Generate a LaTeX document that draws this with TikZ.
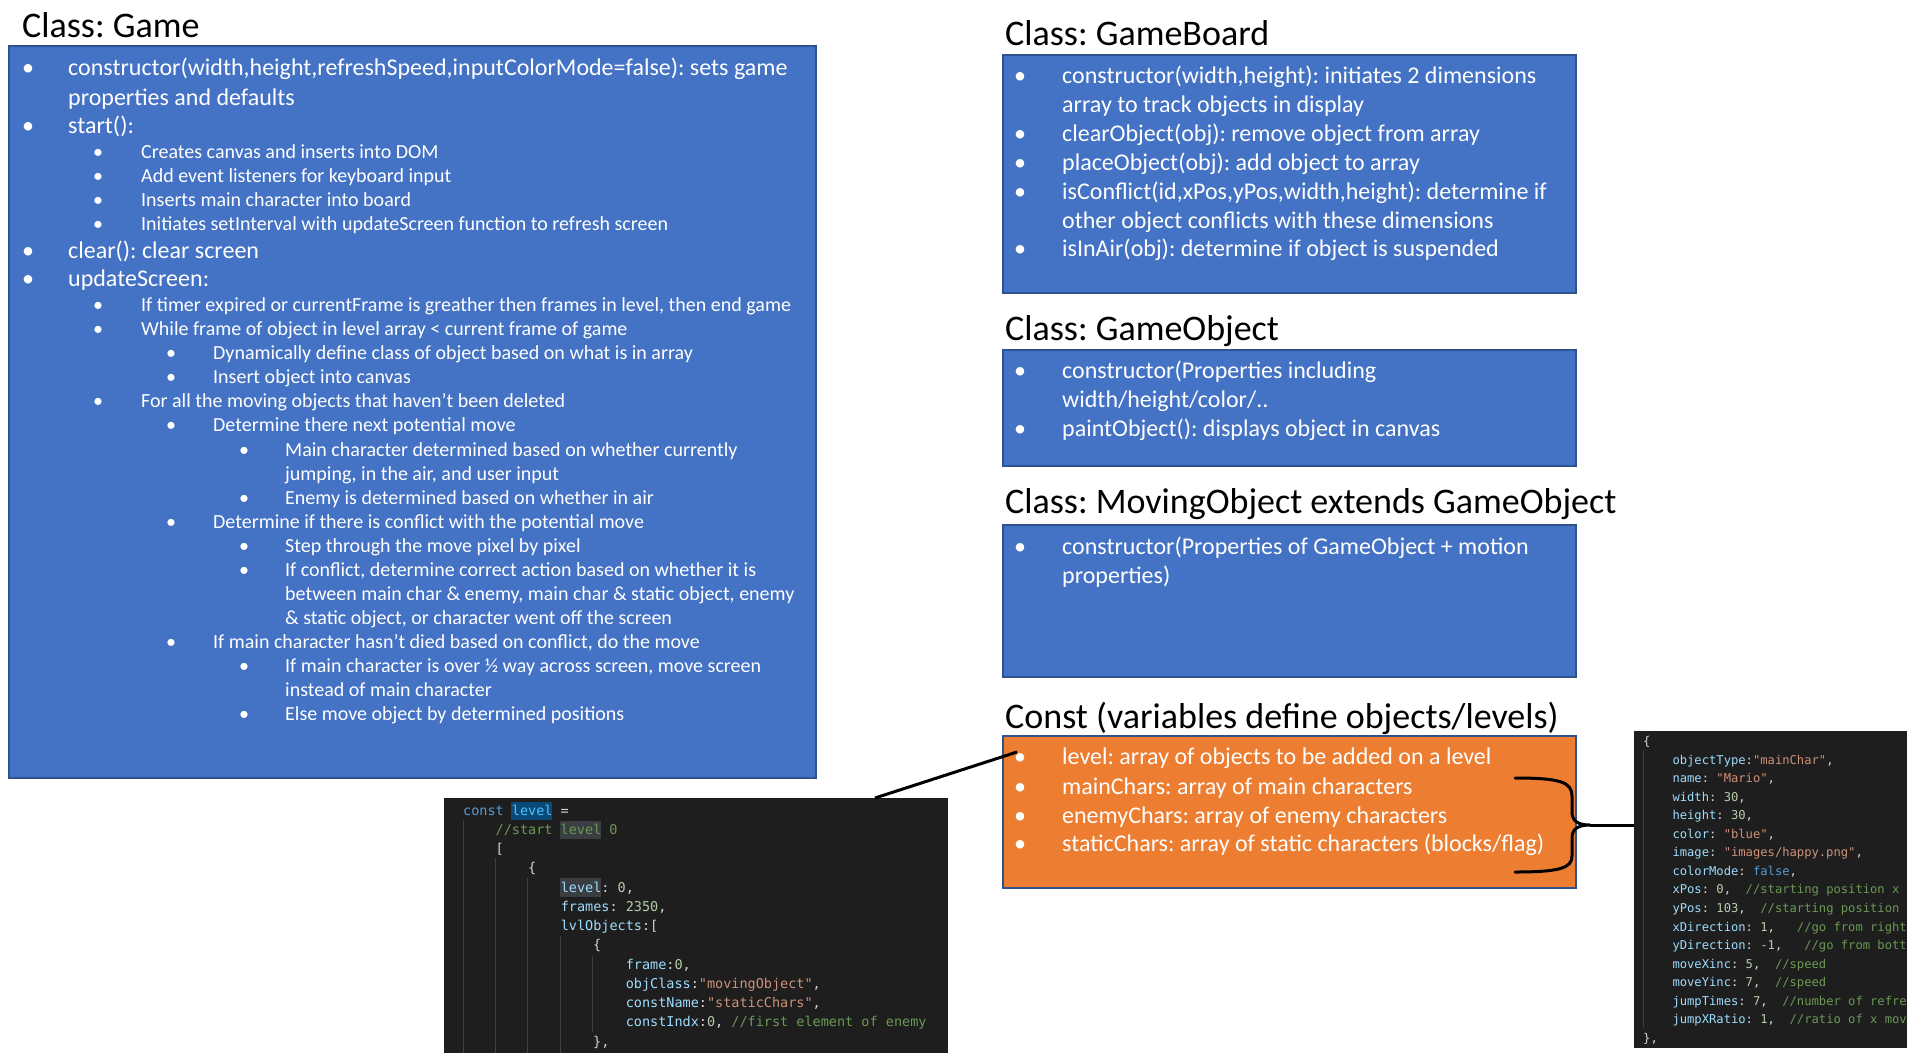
\documentclass[tikz,border=0pt]{standalone}
\usepackage{fontspec}
\setmainfont{Carlito}
\newfontfamily\codefont{DejaVu Sans Mono}
\usetikzlibrary{calc}
\definecolor{pblue}{HTML}{4472C4}
\definecolor{pborder}{HTML}{2F528F}
\definecolor{porange}{HTML}{ED7D31}
\definecolor{vsbg}{HTML}{1E1E1E}
\definecolor{vskw}{HTML}{569CD6}
\definecolor{vsvar}{HTML}{4FC1FF}
\definecolor{vsprop}{HTML}{9CDCFE}
\definecolor{vsstr}{HTML}{CE9178}
\definecolor{vsnum}{HTML}{B5CEA8}
\definecolor{vscom}{HTML}{6A9955}
\definecolor{vstxt}{HTML}{D4D4D4}
\definecolor{vsguide}{HTML}{404040}
\definecolor{vshl}{HTML}{0A4A78}
\definecolor{vshlg}{HTML}{3A3D41}
\newcommand\bu[1]{\llap{\makebox[#1pt][l]{\makebox[0pt]{\textbullet}}}}
\newcommand\kw[1]{\textcolor{vskw}{#1}}
\newcommand\vr[1]{\textcolor{vsvar}{#1}}
\newcommand\pr[1]{\textcolor{vsprop}{#1}}
\newcommand\st[1]{\textcolor{vsstr}{#1}}
\newcommand\nm[1]{\textcolor{vsnum}{#1}}
\newcommand\cm[1]{\textcolor{vscom}{#1}}
\tikzset{
  ttl/.style={anchor=base west, inner sep=0pt, text=black, font=\fontsize{36}{43}\selectfont\frenchspacing},
  tbig/.style={anchor=base west, inner sep=0pt, text=white, font=\fontsize{24}{29}\selectfont\frenchspacing},
  tsub/.style={anchor=base west, inner sep=0pt, text=white, font=\fontsize{20}{24}\selectfont\frenchspacing},
  bluebox/.style={draw=pborder, fill=pblue, line width=2pt, anchor=north west, inner sep=0pt},
  orangebox/.style={draw=pborder, fill=porange, line width=2pt, anchor=north west, inner sep=0pt},
  codebox/.style={fill=vsbg, draw=none, anchor=north west, inner sep=0pt},
  codeA/.style={anchor=base west, inner sep=0pt, text=vstxt, font=\fontsize{13.5}{16}\codefont\frenchspacing},
  codeB/.style={anchor=base west, inner sep=0pt, text=vstxt, font=\fontsize{12.16}{15}\codefont\frenchspacing},
  guide/.style={draw=vsguide, line width=1pt},
  conn/.style={draw=black, line width=3pt},
}
\begin{document}
\frenchspacing
\begin{tikzpicture}[x=1pt,y=-1pt]
\useasboundingbox (0,0) rectangle (1907,1053);
\fill[white] (0,0) rectangle (1907,1053);

% ---------------- Class: Game ----------------
\node[ttl] (tgame) at (22,37) {Class: Game};
\node[bluebox, minimum width=807pt, minimum height=732pt] (game) at (8,45) {};
\node[tbig] (g1) at (68,75) {\bu{40}constructor(width,height,refreshSpeed,inputColorMode=false): sets game};
\node[tbig] (g1c) at (68,105) {properties and defaults};
\node[tbig] (g2) at (68,133) {\bu{40}start():};
\node[tsub] (g21) at (141,158.3) {\bu{43}Creates canvas and inserts into DOM};
\node[tsub] (g22) at (141,182.3) {\bu{43}Add event listeners for keyboard input};
\node[tsub] (g23) at (141,206.3) {\bu{43}Inserts main character into board};
\node[tsub] (g24) at (141,230.3) {\bu{43}Initiates setInterval with updateScreen function to refresh screen};
\node[tbig] (g3) at (68,258) {\bu{40}clear(): clear screen};
\node[tbig] (g4) at (68,286.3) {\bu{40}updateScreen:};
\node[tsub] (g41) at (141,311.7) {\bu{43}If timer expired or currentFrame is greather then frames in level, then end game};
\node[tsub] (g42) at (141,335.75) {\bu{43}While frame of object in level array < current frame of game};
\node[tsub] (g421) at (213,359.8) {\bu{42}Dynamically define class of object based on what is in array};
\node[tsub] (g422) at (213,383.85) {\bu{42}Insert object into canvas};
\node[tsub] (g43) at (141,407.9) {\bu{43}For all the moving objects that haven’t been deleted};
\node[tsub] (g431) at (213,431.95) {\bu{42}Determine there next potential move};
\node[tsub] (g4311) at (285,456) {\bu{41}Main character determined based on whether currently};
\node[tsub] (g4311c) at (285,480.05) {jumping, in the air, and user input};
\node[tsub] (g4312) at (285,504.1) {\bu{41}Enemy is determined based on whether in air};
\node[tsub] (g432) at (213,528.15) {\bu{42}Determine if there is conflict with the potential move};
\node[tsub] (g4321) at (285,552.2) {\bu{41}Step through the move pixel by pixel};
\node[tsub] (g4322) at (285,576.25) {\bu{41}If conflict, determine correct action based on whether it is};
\node[tsub] (g4322c) at (285,600.3) {between main char \& enemy, main char \& static object, enemy};
\node[tsub] (g4322d) at (285,624.35) {\& static object, or character went off the screen};
\node[tsub] (g433) at (213,648.4) {\bu{42}If main character hasn’t died based on conflict, do the move};
\node[tsub] (g4331) at (285,672.45) {\bu{41}If main character is over ½ way across screen, move screen};
\node[tsub] (g4331c) at (285,696.5) {instead of main character};
\node[tsub] (g4332) at (285,720.55) {\bu{41}Else move object by determined positions};

% ---------------- Class: GameBoard ----------------
\node[ttl] (tboard) at (1005,45) {Class: GameBoard};
\node[bluebox, minimum width=573pt, minimum height=238pt] (board) at (1002,54) {};
\node[tbig] (b1) at (1062,83) {\bu{42}constructor(width,height): initiates 2 dimensions};
\node[tbig] (b1c) at (1062,112) {array to track objects in display};
\node[tbig] (b2) at (1062,141.3) {\bu{42}clearObject(obj): remove object from array};
\node[tbig] (b3) at (1062,170.3) {\bu{42}placeObject(obj): add object to array};
\node[tbig] (b4) at (1062,199.7) {\bu{42}isConflict(id,xPos,yPos,width,height): determine if};
\node[tbig] (b4c) at (1062,228) {other object conflicts with these dimensions};
\node[tbig] (b5) at (1062,256.3) {\bu{42}isInAir(obj): determine if object is suspended};

% ---------------- Class: GameObject ----------------
\node[ttl] (tobj) at (1005,340) {Class: GameObject};
\node[bluebox, minimum width=573pt, minimum height=116pt] (gobj) at (1002,349) {};
\node[tbig] (o1) at (1062,378.7) {\bu{42}constructor(Properties including};
\node[tbig] (o1c) at (1062,407.3) {width/height/color/..};
\node[tbig] (o2) at (1062,436.3) {\bu{42}paintObject(): displays object in canvas};

% ---------------- Class: MovingObject ----------------
\node[ttl] (tmov) at (1005,513) {Class: MovingObject extends GameObject};
\node[bluebox, minimum width=573pt, minimum height=152pt] (mov) at (1002,524) {};
\node[tbig] (m1) at (1062,554) {\bu{42}constructor(Properties of GameObject + motion};
\node[tbig] (m1c) at (1062,583) {properties)};

% ---------------- Const ----------------
\node[ttl] (tconst) at (1005,728) {Const (variables define objects/levels)};
\node[orangebox, minimum width=573pt, minimum height=152pt] (const) at (1002,735) {};
\node[tbig] (c1) at (1062,764.7) {\bu{42}level: array of objects to be added on a level};
\node[tbig] (c2) at (1062,794.7) {\bu{42}mainChars: array of main characters};
\node[tbig] (c3) at (1062,823) {\bu{42}enemyChars: array of enemy characters};
\node[tbig] (c4) at (1062,851.3) {\bu{42}staticChars: array of static characters (blocks/flag)};

% ---------------- code box: level ----------------
\node[codebox, minimum width=504pt, minimum height=255pt] (code1) at (444,798) {};
\fill[vshl] (511,801.7) rectangle (552,820);
\fill[vshlg] (560,820.7) rectangle (600.5,839.3);
\fill[vshlg] (560,878) rectangle (600.5,897);
\draw[guide] (463,820) -- (463,1053);
\draw[guide] (495.2,858) -- (495.2,1053);
\draw[guide] (527.7,878) -- (527.7,1053);
\draw[guide] (560.3,936) -- (560.3,1053);
\draw[guide] (592.8,955.7) -- (592.8,1032.3);
\node[codeA] (k0) at (463,815) {\kw{const} \vr{level} =};
\node[codeA] (k1) at (495.5,834.25) {\cm{//start level 0}};
\node[codeA] (k2) at (495.5,853.5) {[};
\node[codeA] (k3) at (528,872.75) {\{};
\node[codeA] (k4) at (560.6,892) {\pr{level}: \nm{0},};
\node[codeA] (k5) at (560.6,911.25) {\pr{frames}: \nm{2350},};
\node[codeA] (k6) at (560.6,930.5) {\pr{lvlObjects}:[};
\node[codeA] (k7) at (593,949.75) {\{};
\node[codeA] (k8) at (625.6,969) {\pr{frame}:\nm{0},};
\node[codeA] (k9) at (625.6,988.25) {\pr{objClass}:\st{"movingObject"},};
\node[codeA] (k10) at (625.6,1007.5) {\pr{constName}:\st{"staticChars"},};
\node[codeA] (k11) at (625.6,1026.75) {\pr{constIndx}:\nm{0}, \cm{//first element of enemy}};
\node[codeA] (k12) at (593,1046) {\},};

% ---------------- code box: mainChar ----------------
\node[codebox, minimum width=273pt, minimum height=317pt] (code2) at (1634,731) {};
\begin{scope}
\clip (1634,731) rectangle (1907,1048);
\draw[guide] (1643,750) -- (1643,1028);
\node[codeB] (j0) at (1643,745.7) {\{};
\node[codeB] (j1) at (1672.3,764.2) {\pr{objectType}:\st{"mainChar"},};
\node[codeB] (j2) at (1672.3,782.8) {\pr{name}: \st{"Mario"},};
\node[codeB] (j3) at (1672.3,801.3) {\pr{width}: \nm{30},};
\node[codeB] (j4) at (1672.3,819.8) {\pr{height}: \nm{30},};
\node[codeB] (j5) at (1672.3,838.4) {\pr{color}: \st{"blue"},};
\node[codeB] (j6) at (1672.3,856.9) {\pr{image}: \st{"images/happy.png"},};
\node[codeB] (j7) at (1672.3,875.4) {\pr{colorMode}: \kw{false},};
\node[codeB] (j8) at (1672.3,893.9) {\pr{xPos}: \nm{0},~~\cm{//starting position x}};
\node[codeB] (j9) at (1672.3,912.5) {\pr{yPos}: \nm{103},~~\cm{//starting position y}};
\node[codeB] (j10) at (1672.3,931) {\pr{xDirection}: \nm{1},~~~\cm{//go from right to left}};
\node[codeB] (j11) at (1672.3,949.5) {\pr{yDirection}: \nm{-1},~~~\cm{//go from bottom to top}};
\node[codeB] (j12) at (1672.3,968.1) {\pr{moveXinc}: \nm{5},~~\cm{//speed}};
\node[codeB] (j13) at (1672.3,986.6) {\pr{moveYinc}: \nm{7},~~\cm{//speed}};
\node[codeB] (j14) at (1672.3,1005.1) {\pr{jumpTimes}: \nm{7},~~\cm{//number of refresh}};
\node[codeB] (j15) at (1672.3,1023.7) {\pr{jumpXRatio}: \nm{1},~~\cm{//ratio of x move}};
\node[codeB] (j16) at (1643,1042.2) {\},};
\end{scope}

% ---------------- connectors ----------------
\coordinate (lvlA) at ($(code1.north west)+(431,0)$);
\coordinate (lvlB) at (1017,752);
\draw[conn] (lvlA) -- (lvlB);
\coordinate (btip) at (1590,825);
\draw[conn, line cap=round] (1515,778) .. controls (1560,778) and (1572,782) .. (1572,796)
  -- (1572,812) .. controls (1572,821) and (1578,825) .. (btip)
  .. controls (1578,825) and (1572,829) .. (1572,838)
  -- (1572,856) .. controls (1572,868) and (1560,872) .. (1515,872);
\draw[conn] (btip) -- (btip -| code2.west);
\end{tikzpicture}
\end{document}
